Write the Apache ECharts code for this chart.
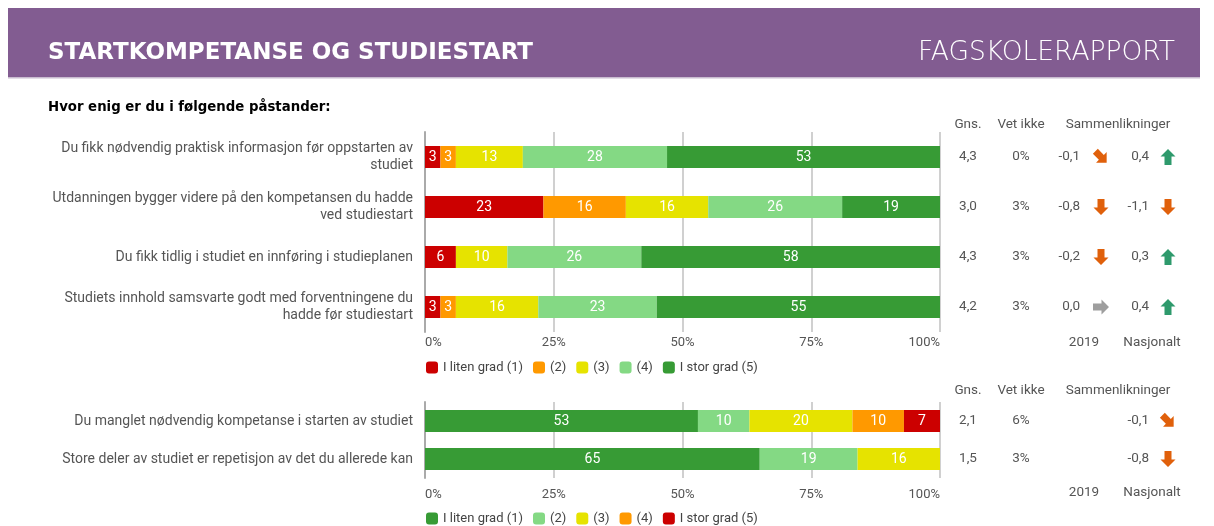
<!DOCTYPE html>
<html>
<head>
<meta charset="utf-8">
<style>html,body{margin:0;padding:0;background:#fff}#chart{width:1214px;height:526px}</style>
<script src="https://cdn.jsdelivr.net/npm/echarts@6/dist/echarts.min.js"></script>
</head>
<body>
<div id="chart"></div>
<script>
// Påstander og svarfordeling (prosent)
const statementsA = [
    'Du fikk nødvendig praktisk informasjon før oppstarten av\nstudiet',
    'Utdanningen bygger videre på den kompetansen du hadde\nved studiestart',
    'Du fikk tidlig i studiet en innføring i studieplanen',
    'Studiets innhold samsvarte godt med forventningene du\nhadde før studiestart'
]
const levelsA = ['I liten grad (1)', '(2)', '(3)', '(4)', 'I stor grad (5)']
const colorsA = ['#cc0000', '#ff9900', '#e6e300', '#84d984', '#379b35']
const level1A = [3, 23, 6, 3]
const level2A = [3, 16, 0, 3]
const level3A = [13, 16, 10, 16]
const level4A = [28, 26, 26, 23]
const level5A = [53, 19, 58, 55]
const meansA = ['4,3', '3,0', '4,3', '4,2']
const dontKnowA = ['0%', '3%', '3%', '3%']
const vs2019A = ['-0,1', '-0,8', '-0,2', '0,0']
const trend2019A = ['downRight', 'down', 'down', 'right']
const nationalA = ['0,4', '-1,1', '0,3', '0,4']
const trendNationalA = ['up', 'down', 'up', 'up']

const statementsB = [
    'Du manglet nødvendig kompetanse i starten av studiet',
    'Store deler av studiet er repetisjon av det du allerede kan'
]
const levelsB = ['I liten grad (1)', '(2)', '(3)', '(4)', 'I stor grad (5)']
const colorsB = ['#379b35', '#84d984', '#e6e300', '#ff9900', '#cc0000']
const level1B = [53, 65]
const level2B = [10, 19]
const level3B = [20, 16]
const level4B = [10, 0]
const level5B = [7, 0]
const meansB = ['2,1', '1,5']
const dontKnowB = ['6%', '3%']
const nationalB = ['-0,1', '-0,8']
const trendNationalB = ['downRight', 'down']

const tickLabels = ['0%', '25%', '50%', '75%', '100%']

const FONT = 'Roboto'
const GREY = '#555'

const valuesA = [level1A, level2A, level3A, level4A, level5A]
const valuesB = [level1B, level2B, level3B, level4B, level5B]

const makeXAxis = (gridIndex, margin) => ({
    type: 'value', gridIndex, min: 0, max: 100, interval: 25,
    axisLine: { show: false }, axisTick: { show: false },
    splitLine: { lineStyle: { color: '#d0d0d0', width: 2 } },
    axisLabel: {
        margin, color: GREY, fontFamily: FONT, fontSize: 13,
        alignMinLabel: 'left', alignMaxLabel: 'right',
        formatter: v => tickLabels[v / 25]
    }
})

const makeYAxis = (gridIndex, data) => ({
    type: 'category', gridIndex, data, inverse: true,
    axisTick: { show: false },
    axisLine: { lineStyle: { color: '#aaa', width: 2 } },
    axisLabel: { margin: 12, color: GREY, fontFamily: FONT, fontSize: 14, lineHeight: 17, align: 'right' }
})

const makeSeries = (names, colors, values, axisIndex, stack) => names.map((name, i) => ({
    name, type: 'bar', stack, xAxisIndex: axisIndex, yAxisIndex: axisIndex,
    barWidth: 22, data: values[i],
    itemStyle: { color: colors[i] },
    label: {
        show: true, position: 'inside', color: '#fff', fontFamily: FONT, fontSize: 14,
        formatter: p => p.value > 0 ? p.value : ''
    },
    emphasis: { disabled: true }
}))

const makeLegend = (names, colors, top) => ({
    left: 421, top, icon: 'roundRect', itemWidth: 12, itemHeight: 12, itemGap: 10,
    selectedMode: false,
    textStyle: { color: '#444', fontFamily: FONT, fontSize: 13 },
    data: names.map((name, i) => ({ name, itemStyle: { color: colors[i] } }))
})

const chart = echarts.init(document.getElementById('chart'))
chart.setOption({
    animation: false,
    grid: [
        { left: 425, width: 515, top: 132, height: 200 },
        { left: 425, width: 515, top: 402, height: 76 }
    ],
    xAxis: [makeXAxis(0, 4), makeXAxis(1, 10)],
    yAxis: [makeYAxis(0, statementsA), makeYAxis(1, statementsB)],
    legend: [makeLegend(levelsA, colorsA, 356), makeLegend(levelsB, colorsB, 507)],
    series: [
        ...makeSeries(levelsA, colorsA, valuesA, 0, 'a'),
        ...makeSeries(levelsB, colorsB, valuesB, 1, 'b')
    ]
})

// Tabell til høyre
const text = (x, y, t, align = 'center', extra = {}) => ({
    type: 'text', x, y, silent: true,
    style: Object.assign({ text: t, fill: GREY, font: `13.5px ${FONT}`, textAlign: align, textVerticalAlign: 'middle' }, extra)
})
const arrowPoints = [[0, -8], [7.5, -0.5], [3.5, -0.5], [3.5, 8], [-3.5, 8], [-3.5, -0.5], [-7.5, -0.5]]
const arrowTurn = { up: 0, right: -Math.PI / 2, down: Math.PI, downRight: -3 * Math.PI / 4 }
const arrowColor = { up: '#2e9a6c', right: '#9e9e9e', down: '#e0600b', downRight: '#e0600b' }
const arrow = (x, y, dir) => ({
    type: 'polygon', x, y, rotation: arrowTurn[dir], silent: true,
    shape: { points: arrowPoints }, style: { fill: arrowColor[dir] }
})

const graphic = [
    { type: 'rect', shape: { x: 8, y: 8, width: 1192, height: 70 }, style: { fill: '#825c91' } },
    { type: 'rect', shape: { x: 8, y: 77, width: 1192, height: 1.5 }, style: { fill: '#c9bcd0' } },
    text(48, 53, 'STARTKOMPETANSE OG STUDIESTART', 'left', { fill: '#fff', font: `bold 23px "DejaVu Sans"` }),
    text(1175, 53, 'FAGSKOLERAPPORT', 'right', { fill: '#fff', font: `200 26.5px "DejaVu Sans"` }),
    text(48, 108, 'Hvor enig er du i følgende påstander:', 'left', { fill: '#000', font: `bold 13.3px "DejaVu Sans"` })
]

const addHeader = (y) => {
    graphic.push(text(968, y, 'Gns.'), text(1021, y, 'Vet ikke'), text(1118, y, 'Sammenlikninger'))
}
const addFooter = (y) => {
    graphic.push(text(1084, y, '2019'), text(1152, y, 'Nasjonalt'))
}

addHeader(125)
addFooter(343)
statementsA.forEach((s, i) => {
    const y = chart.convertToPixel({ yAxisIndex: 0 }, i)
    graphic.push(
        text(968, y, meansA[i]), text(1021, y, dontKnowA[i]),
        text(1080, y, vs2019A[i], 'right'), arrow(1101, y, trend2019A[i]),
        text(1149, y, nationalA[i], 'right'), arrow(1168, y, trendNationalA[i])
    )
})

addHeader(391)
addFooter(493)
statementsB.forEach((s, i) => {
    const y = chart.convertToPixel({ yAxisIndex: 1 }, i)
    graphic.push(
        text(968, y, meansB[i]), text(1021, y, dontKnowB[i]),
        text(1149, y, nationalB[i], 'right'), arrow(1168, y, trendNationalB[i])
    )
})

chart.setOption({ graphic })
</script>
</body>
</html>
